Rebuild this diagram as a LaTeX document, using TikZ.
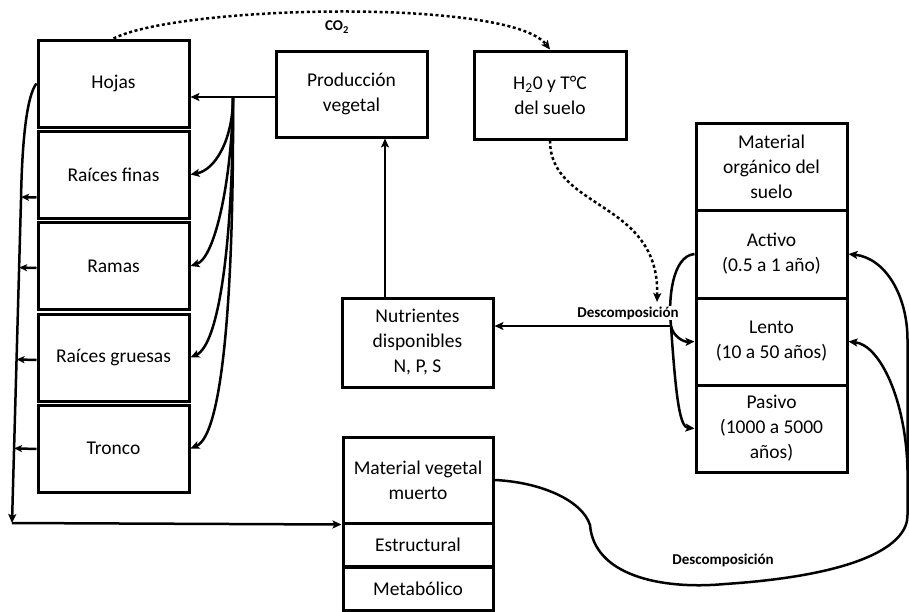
\documentclass[tikz,border=0pt]{standalone}
\usepackage{fontspec}
\setmainfont{Carlito}
\usetikzlibrary{arrows.meta,calc}
\begin{document}
\begin{tikzpicture}[x=1pt,y=-1pt]
        \tikzset{box/.style={draw,line width=3pt,minimum width=151pt,minimum height=87pt,
                align=center,inner sep=2pt,font=\fontsize{19.5}{25}\selectfont},
            thin box/.style={box,minimum height=43.5pt},
            arr/.style={line width=2.5pt,-{Stealth[length=9pt,width=8pt,inset=2pt]}},
            dots/.style={arr,dash pattern=on 3pt off 2.6pt},
            lbl/.style={font=\bfseries\fontsize{15}{18}\selectfont,inner sep=1pt}}
        \useasboundingbox (0,0) rectangle (909,611);
        \node[box] (hojas) at (113.5,83.5) {Hojas};
        \node[box] (finas) at (113.5,174.5) {Raíces finas};
        \node[box] (ramas) at (113.5,266) {Ramas};
        \node[box] (gruesas) at (113.5,357.5) {Raíces gruesas};
        \node[box] (tronco) at (113.5,448.5) {Tronco};
        \node[box,minimum height=86pt] (prod) at (351.5,94) {Producción\\vegetal};
        \node[box,minimum width=152pt,minimum height=88pt] (agua) at (550,95) {H\textsubscript{2}0 y T°C\\del suelo};
        \node[box] (mos) at (771.5,166.5) {Material\\orgánico del\\suelo};
        \node[box,minimum height=88pt] (activo) at (771.5,254) {Activo\\(0.5 a 1 año)};
        \node[box] (lento) at (771.5,341.5) {Lento\\(10 a 50 años)};
        \node[box] (pasivo) at (771.5,428.5) {Pasivo\\(1000 a 5000\\años)};
        \node[box,minimum height=89pt] (nutr) at (417.5,342.5) {Nutrientes\\disponibles\\N, P, S};
        \node[box,minimum width=150pt,minimum height=86pt] (mvm) at (418,480) {Material vegetal\\muerto};
        \node[thin box,minimum width=150pt,minimum height=44pt] (estr) at (418,545) {Estructural};
        \node[thin box,minimum width=150pt] (metab) at (418,588.5) {Metabólico};
        \coordinate (br) at (233,97);
        \coordinate (tk1) at (21,200);
        \coordinate (tk2) at (12,523);
        \coordinate (dec) at (671,326);
        \coordinate (dtip) at (657,302);
        \draw[line width=2.5pt] (prod.west |- br) -- (br);
        \draw[arr] (br) -- (hojas.east |- br);
        \draw[arr] (br) .. controls (233,140) and (215,170) .. (finas.east);
        \draw[arr] (br) .. controls (232,180) and (215,258) .. (ramas.east);
        \draw[arr] (br) .. controls (233,250) and (218,345) .. (gruesas.east);
        \draw[arr] (br) .. controls (234,300) and (222,435) .. (tronco.east);
        \draw[arr] (hojas.west) .. controls (27,95) and (22,140) .. (tk1) -- (tk2);
        \foreach \n/\s in {finas/-23pt,ramas/-2pt,gruesas/-2.5pt,tronco/-0.5pt}
            \draw[arr,-{Stealth[length=8pt,width=7pt,inset=2pt]}] ([yshift=\s]\n.west) -- ($(tk1)!([yshift=\s]\n.west)!(tk2)$);
        \draw[arr] (tk2) -- (mvm.south west);
        \draw[arr] ([xshift=-32.5pt]nutr.north) -- ([xshift=-32.5pt]nutr.north |- prod.south);
        \draw[arr] (dec) -- (nutr.east |- dec);
        \draw[arr] (activo.west) .. controls (672,256) and (668,300) .. (dec) .. controls (673,336) and (683,342) .. (lento.west);
        \draw[arr] (dec) .. controls (676,400) and (680,427) .. (pasivo.west);
        \draw[dots] (hojas.north) .. controls (180,5) and (510,-2) .. (agua.north);
        \draw[dots] (agua.south) .. controls (550,210) and (660,200) .. (dtip);
        \draw[arr] (mvm.east) .. controls (540,482) and (582,500) .. (590,525)
            .. controls (594,575) and (660,590) .. (725,584)
            .. controls (860,575) and (908,545) .. (907.5,515) -- (907.5,340)
            .. controls (907.5,295) and (885,258) .. (activo.east);
        \draw[arr] (907.5,470) .. controls (906,400) and (880,345) .. (lento.east);
        \node[lbl] (co) at (337,27) {CO\textsubscript{2}};
        \node[lbl,fill=white] (desc1) at (628,313) {Descomposición};
        \node[lbl] (desc2) at (723,560) {Descomposición};
    \end{tikzpicture}
\end{document}
